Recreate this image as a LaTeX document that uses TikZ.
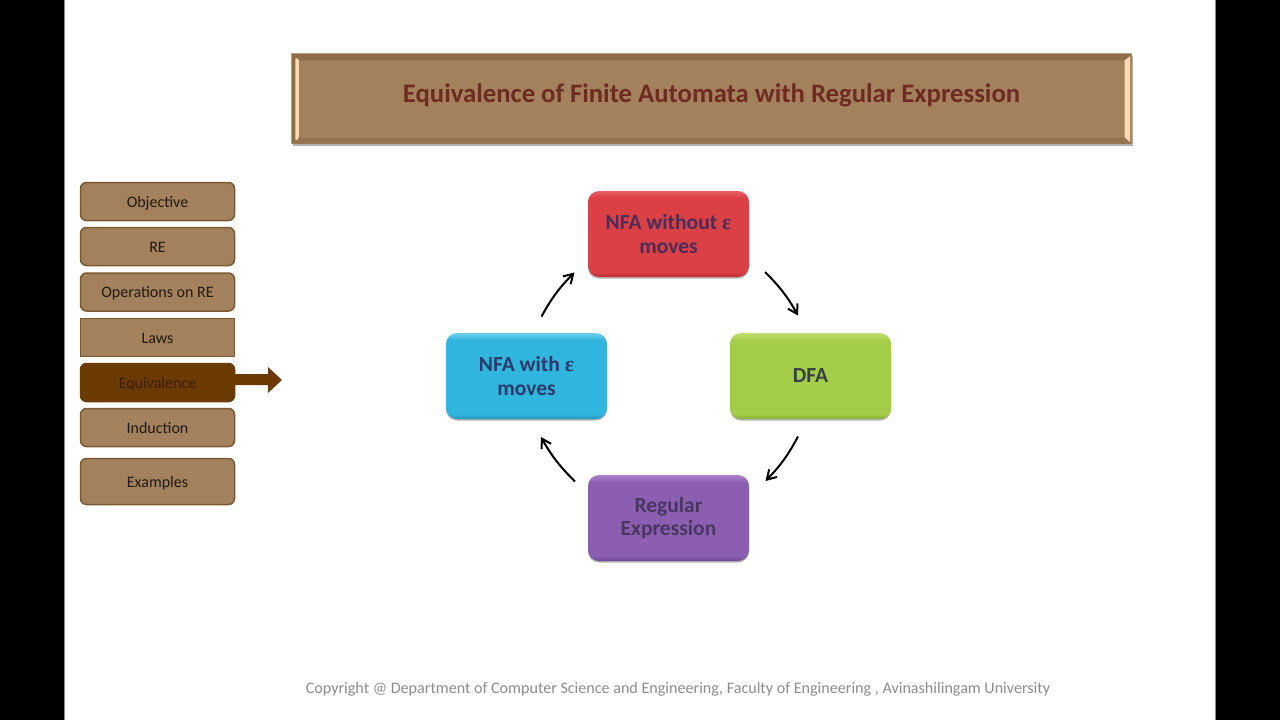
\documentclass[tikz,border=0pt]{standalone}
\usepackage{fontspec}
\setmainfont{Carlito}
\newfontfamily\epsfont{Liberation Serif}
\usetikzlibrary{shadows,arrows.meta,calc}
\definecolor{tan}{HTML}{A3815D}
\definecolor{tandark}{HTML}{7A5A32}
\definecolor{titlered}{HTML}{6F2A22}
\definecolor{eqbrown}{HTML}{6B3A00}
\definecolor{eqtext}{HTML}{3C1E05}
\definecolor{redtext}{HTML}{4B2D5A}
\definecolor{cyantext}{HTML}{2A3A69}
\definecolor{greentext}{HTML}{374141}
\definecolor{purpletext}{HTML}{48385F}
\newcommand{\rimshade}[4]{\pgfdeclareverticalshading{#1}{100bp}{%
  rgb(0bp)=(#4); rgb(25bp)=(#4); rgb(28bp)=(#3); rgb(71bp)=(#3); rgb(74.5bp)=(#2); rgb(100bp)=(#2)}}
\rimshade{redshade}{.90,.36,.38}{.86,.25,.27}{.74,.17,.21}
\rimshade{cyanshade}{.42,.80,.92}{.19,.71,.87}{.13,.58,.77}
\rimshade{greenshade}{.76,.87,.44}{.64,.80,.28}{.53,.69,.21}
\rimshade{purpleshade}{.66,.50,.78}{.55,.37,.70}{.43,.28,.58}
\tikzset{
  menubox/.style={draw=tandark,line width=1.5pt,fill=tan,rounded corners=6pt,minimum width=154pt,minimum height=38pt,inner sep=0pt,text=black!80!tan,font=\fontsize{16}{19}\selectfont,text height=14pt,text depth=3pt},
  flowbox/.style={rounded corners=11pt,minimum width=161pt,minimum height=86pt,inner sep=0pt,align=center,font=\fontsize{21.5}{23.5}\bfseries\selectfont,drop shadow={shadow xshift=0pt,shadow yshift=-1.5pt,opacity=.3,fill=black}},
  flowarrow/.style={line width=2pt,black,-{Straight Barb[length=9pt,width=11pt,line width=2pt]}}
}
\begin{document}
\begin{tikzpicture}[x=1pt,y=-1pt]
\useasboundingbox (0,0) rectangle (1280,720);
\fill[white] (0,0) rectangle (1280,720);
\fill[black] (0,0) rectangle (64,720);
\fill[black] (1216,0) rectangle (1280,720);
\fill[black!45] (64,0) rectangle (65,720);
\fill[black!45] (1215,0) rectangle (1216,720);
% title banner
\fill[black!30] (293,56) rectangle (1133,146);
\node[minimum width=840pt,minimum height=90pt,inner sep=0pt,fill=tan] (title) at (711.5,98.5) {};
\fill[tandark!50!tan] (title.north west) -- (title.north east) -- ++(-7,7) -- ($(title.north west)+(7,7)$) -- cycle;
\fill[tandark!35!tan] (title.south west) -- (title.south east) -- ++(-7,-6) -- ($(title.south west)+(7,-6)$) -- cycle;
\fill[tandark!50!tan] (title.north west) -- ++(7,7) |- ($(title.south west)+(7,-6)$) -- (title.south west) -- cycle;
\fill[orange!30!white] ($(title.north west)+(6,5)$) -- ++(1.5,2) -- ++(0,77) -- ++(-1.5,2.5) -- ++(-2,0) -- ++(0,-81.5) -- cycle;
\fill[orange!30!white] ($(title.north east)+(-7,7)$) -- ++(5.5,-4) -- ++(0,86) -- ++(-5.5,-5) -- cycle;
\node[text=titlered,font=\fontsize{26.7}{30}\bfseries\selectfont,inner sep=0pt] (titletext) at (711.5,95.5) {Equivalence of Finite Automata with Regular Expression};
% menu
\node[menubox] (objective) at (157.5,201.5) {Objective};
\node[menubox] (re) at (157.5,246.5) {RE};
\node[menubox] (ops) at (157.5,292) {Operations on RE};
\node[menubox,rounded corners=0pt] (laws) at (157.5,337.5) {Laws};
\fill[eqbrown] (235,374) -- (268,374) -- (268,367) -- (282,380) -- (268,393) -- (268,385) -- (235,385) -- cycle;
\node[menubox,draw=eqbrown,fill=eqbrown,text=eqtext] (equiv) at (157.5,382.5) {Equivalence};
\node[menubox] (induction) at (157.5,427.5) {Induction};
\node[menubox,minimum height=46pt] (examples) at (157.5,481.5) {Examples};
% flow boxes
\node[flowbox,shading=redshade,text=redtext] (nfawo) at (668.5,234) {NFA without {\epsfont ε}\\moves};
\node[flowbox,shading=cyanshade,text=cyantext] (nfaw) at (526.5,376) {NFA with {\epsfont ε}\\moves};
\node[flowbox,shading=greenshade,text=greentext] (dfa) at (810.5,376) {\raisebox{1pt}{DFA}};
\node[flowbox,shading=purpleshade,text=purpletext] (regex) at (668.5,518) {Regular\\Expression};
% arrows
\coordinate (a1) at (541.5,316.5);
\coordinate (a2) at (574.5,272.5);
\coordinate (b1) at (765,272);
\coordinate (b2) at (798,315.5);
\coordinate (c1) at (798,436.5);
\coordinate (c2) at (765.5,481);
\coordinate (d1) at (575,481.5);
\coordinate (d2) at (541,437);
\draw[flowarrow] (a1) to[bend left=8] (a2);
\draw[flowarrow] (b1) to[bend left=8] (b2);
\draw[flowarrow] (c1) to[bend left=8] (c2);
\draw[flowarrow] (d1) to[bend left=8] (d2);
\node[text=black!45,font=\fontsize{16.1}{19}\selectfont,inner sep=0pt] (copy) at (678,689) {Copyright @ Department of Computer Science and Engineering, Faculty of Engineering , Avinashilingam University};
\end{tikzpicture}
\end{document}
